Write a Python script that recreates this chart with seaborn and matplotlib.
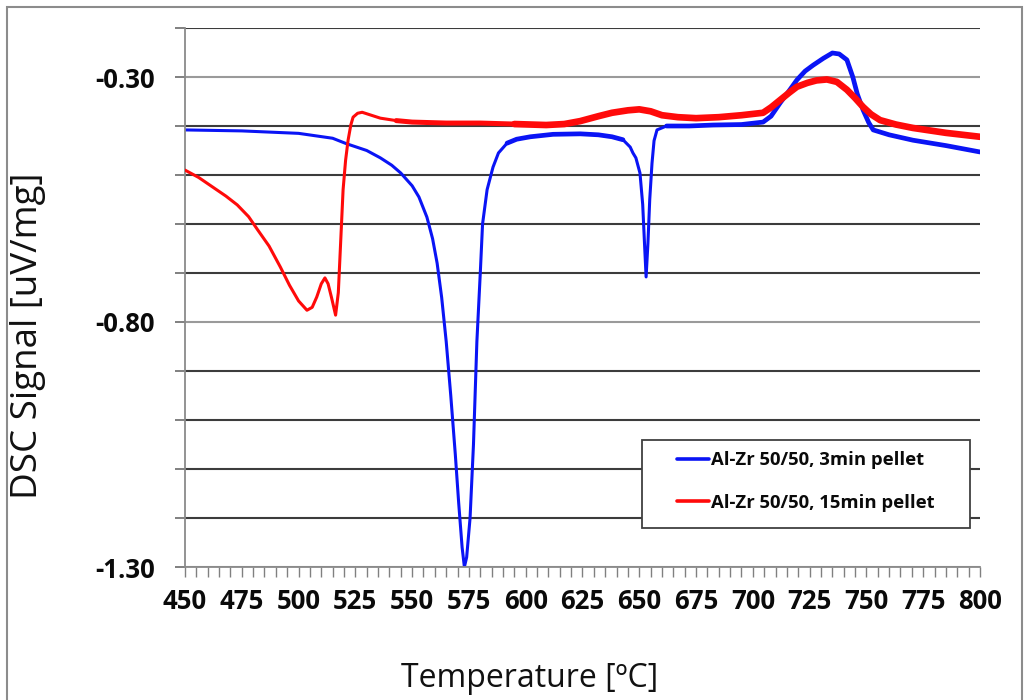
import numpy as np
import pandas as pd
import matplotlib
matplotlib.use("Agg")
import matplotlib.pyplot as plt
from matplotlib.ticker import MultipleLocator, FixedLocator, FuncFormatter
from matplotlib.patches import Rectangle
import seaborn as sns

# DSC traces, Al-Zr 50/50 pellets
temp_3min = [450, 475, 500, 515, 521, 530, 536, 541, 545, 550, 553, 556.5, 559, 561, 563,
             565, 567, 569, 570.5, 572, 573, 574, 575.5, 577, 578.5, 580, 581, 583, 585.6,
             588, 591.8, 596, 602, 612, 624, 632, 638, 642.8, 646, 647.2, 648.5, 650.3,
             651.5, 652.3, 653, 653.8, 654.6, 655.6, 656.5, 657.8, 662, 672, 682.5, 695,
             704.5, 708, 712, 716, 719.4, 723, 726.5, 731, 735, 738, 741.4, 744, 746,
             748.5, 751, 753, 760, 770.5, 785, 800]
dsc_3min = [-0.408, -0.410, -0.415, -0.425, -0.436, -0.450, -0.465, -0.480, -0.496, -0.522,
            -0.545, -0.586, -0.630, -0.680, -0.750, -0.840, -0.950, -1.070, -1.170, -1.260,
            -1.300, -1.280, -1.200, -1.050, -0.840, -0.700, -0.600, -0.530, -0.484, -0.455,
            -0.435, -0.427, -0.422, -0.417, -0.416, -0.418, -0.422, -0.428, -0.443, -0.455,
            -0.465, -0.496, -0.560, -0.640, -0.708, -0.640, -0.550, -0.476, -0.430, -0.408,
            -0.400, -0.400, -0.398, -0.397, -0.392, -0.380, -0.353, -0.328, -0.306, -0.288,
            -0.276, -0.262, -0.251, -0.253, -0.265, -0.300, -0.335, -0.367, -0.393, -0.408,
            -0.418, -0.429, -0.440, -0.453]

temp_15min = [450, 456, 462, 468, 473, 478, 482, 487, 492, 496, 500, 503.7, 506, 508, 510,
              511.6, 513, 514.5, 516.3, 517.5, 518.5, 519.6, 520.7, 521.8, 523, 524, 526,
              528, 532, 536, 543, 550, 565, 580, 595, 609, 617, 624, 632, 638, 645, 650,
              655, 660, 667, 675, 685, 695, 704.5, 708, 712, 716, 719.4, 724, 728, 732.6,
              737, 741.4, 745, 748.5, 752, 756, 763, 770.5, 785, 800]
dsc_15min = [-0.490, -0.505, -0.524, -0.543, -0.561, -0.585, -0.612, -0.645, -0.688, -0.725,
             -0.757, -0.776, -0.770, -0.749, -0.722, -0.710, -0.722, -0.750, -0.786, -0.740,
             -0.640, -0.530, -0.470, -0.429, -0.398, -0.382, -0.374, -0.372, -0.378, -0.384,
             -0.389, -0.392, -0.394, -0.394, -0.396, -0.398, -0.396, -0.390, -0.380, -0.373,
             -0.368, -0.366, -0.370, -0.378, -0.382, -0.384, -0.382, -0.378, -0.373, -0.362,
             -0.347, -0.332, -0.320, -0.312, -0.307, -0.305, -0.310, -0.326, -0.343, -0.361,
             -0.376, -0.388, -0.397, -0.404, -0.414, -0.422]

label_3min = "Al-Zr 50/50, 3min pellet"
label_15min = "Al-Zr 50/50, 15min pellet"
x_ticks = [450, 475, 500, 525, 550, 575, 600, 625, 650, 675, 700, 725, 750, 775, 800]
y_labels = [-0.30, -0.80, -1.30]

sns.set_theme(style="white")
plt.rcParams["font.family"] = ["Open Sans", "DejaVu Sans"]

df = pd.concat([
    pd.DataFrame({"T": temp_3min, "DSC": dsc_3min, "sample": label_3min}),
    pd.DataFrame({"T": temp_15min, "DSC": dsc_15min, "sample": label_15min}),
], ignore_index=True)
palette = {label_3min: "#0a14f5", label_15min: "#ff0a0a"}

W, H = 1030, 700
L, R, T, B = 185, 980, 28, 567          # plot area in pixels
fig = plt.figure(figsize=(W / 100, H / 100), dpi=100)
ax = fig.add_axes([L / W, 1 - B / H, (R - L) / W, (B - T) / H])


def ax_x(px):
    return (px - L) / (R - L)


def ax_y(py):
    return (B - py) / (B - T)


sns.lineplot(data=df, x="T", y="DSC", hue="sample", palette=palette, linewidth=2.2,
             sort=False, ax=ax)

# the signal is noisy at higher temperature; show that band with a heavier stroke
blue = df[df["sample"] == label_3min]
red = df[df["sample"] == label_15min]
bands = [
    (blue[(blue["T"] >= 590) & (blue["T"] <= 645)], label_3min, 3.4),
    (blue[blue["T"] >= 658], label_3min, 3.4),
    (red[(red["T"] >= 543) & (red["T"] <= 600)], label_15min, 3.6),
    (red[red["T"] >= 595], label_15min, 4.8),
]
for seg, name, lw in bands:
    sns.lineplot(data=seg, x="T", y="DSC", color=palette[name], linewidth=lw,
                 sort=False, legend=False, ax=ax)
for line in ax.get_lines():
    if line.get_color() == palette[label_15min]:
        line.set_zorder(3)

ax.set_xlim(450, 800)
ax.set_ylim(-1.30, -0.20)

ax.xaxis.set_major_locator(FixedLocator(x_ticks))
ax.xaxis.set_minor_locator(MultipleLocator(5))
y_grid = [round(-1.30 + 0.1 * i, 2) for i in range(12)]
ax.yaxis.set_major_locator(FixedLocator(y_grid))
ax.yaxis.set_major_formatter(FuncFormatter(
    lambda v, p: f"{v:.2f}" if any(abs(v - t) < 1e-6 for t in y_labels) else ""))

ax.tick_params(axis="x", which="both", direction="out", length=7, width=1,
               color="#808080", bottom=True, pad=8, labelsize=18.5, labelcolor="#0a0a0a")
ax.tick_params(axis="y", which="major", direction="out", length=7.5, width=1.4,
               color="#808080", left=True, pad=14, labelsize=18.5, labelcolor="#0a0a0a")
for lab in ax.get_xticklabels() + ax.get_yticklabels():
    lab.set_fontweight("bold")

ax.grid(axis="y", which="major", linewidth=1.5)
ax.grid(axis="x", visible=False)
for val, gl in zip(y_grid, ax.get_ygridlines()):
    labelled = any(abs(val - t) < 1e-6 for t in y_labels)
    gl.set_color("#9a9a9a" if labelled else "#3c3c3c")
    gl.set_zorder(0.5)

for side in ("top", "right"):
    ax.spines[side].set_visible(False)
for side in ("left", "bottom"):
    ax.spines[side].set_color("#8a8a8a")
    ax.spines[side].set_linewidth(1.3)

ax.set_xlabel("Temperature [ºC]", fontsize=23, color="#111111")
ax.xaxis.set_label_coords(ax_x(530), ax_y(662))
ax.set_ylabel("DSC Signal [uV/mg]", fontsize=26.5, color="#111111")
ax.yaxis.set_label_coords(ax_x(46), ax_y(336))

# legend: white framed box, entries placed inside it
box = Rectangle((ax_x(642), ax_y(528)), ax_x(970) - ax_x(642), ax_y(440) - ax_y(528),
                transform=ax.transAxes, facecolor="white", edgecolor="#404040",
                linewidth=1.3, zorder=4)
ax.add_patch(box)
handles, labels = ax.get_legend_handles_labels()
leg = ax.legend(handles, labels, loc="upper left",
                bbox_to_anchor=(ax_x(677), ax_y(451)), frameon=False,
                prop={"weight": "bold", "size": 13.3}, handlelength=1.75,
                handletextpad=0.1, labelspacing=1.35, borderpad=0, borderaxespad=0,
                title=None)
leg.set_zorder(5)
for h in leg.get_lines():
    h.set_linewidth(2.6)
for t in leg.get_texts():
    t.set_color("#0a0a0a")

fig.patches.append(Rectangle((7 / W, -0.01), 1015 / W, 1.005 - 3 / H,
                             transform=fig.transFigure, fill=False,
                             edgecolor="#8c8c8c", linewidth=1.5))

fig.savefig("out.png", dpi=100, facecolor="white")
